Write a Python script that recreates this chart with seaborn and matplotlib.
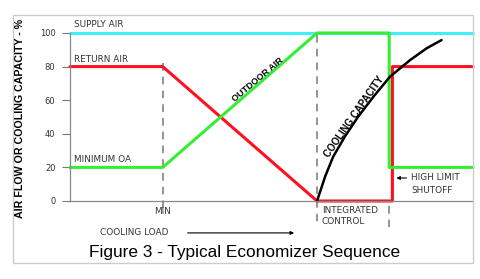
import matplotlib
matplotlib.use("Agg")
import matplotlib.pyplot as plt
from matplotlib.patches import Rectangle
import seaborn as sns

# ---- data ----
supply_x = [0, 100]
supply_y = [100, 100]
return_x = [0, 23, 61.3, 80, 80, 100]
return_y = [80, 80, 0, 0, 80, 80]
outdoor_x = [0, 23, 61.3, 79.2, 79.2, 100]
outdoor_y = [20, 20, 100, 100, 20, 20]
cooling_x = [61.3, 63.3, 65.3, 68.2, 71.5, 75.3, 79.4, 84.4, 88.5, 92.2]
cooling_y = [0, 14.5, 26.4, 38.3, 50.2, 62.1, 74.0, 83.9, 90.9, 95.8]
y_ticks = [0, 20, 40, 60, 80, 100]
min_x = 23
integrated_x = 61.3
shutoff_x = 79.2

sns.set_style("white")
plt.rcParams['font.family'] = ['Liberation Sans', 'DejaVu Sans']

fig = plt.figure(figsize=(4.8, 2.79), dpi=100)
ax = fig.add_axes([70/480, 1-201/279, (473-70)/480, (201-33)/279])

lw = 2.2
sns.lineplot(x=supply_x, y=supply_y, ax=ax, color="#3ff0fa", lw=lw, sort=False, estimator=None, clip_on=False)
sns.lineplot(x=return_x, y=return_y, ax=ax, color="#ff1020", lw=lw, sort=False, estimator=None, clip_on=False)
sns.lineplot(x=outdoor_x, y=outdoor_y, ax=ax, color="#33ee33", lw=lw, sort=False, estimator=None, clip_on=False)
sns.lineplot(x=cooling_x, y=cooling_y, ax=ax, color="black", lw=1.8, sort=False, estimator=None, clip_on=False)

dash = dict(color="#777777", lw=1.1, ls=(0, (5, 4)), clip_on=False, zorder=1)
ax.plot([min_x, min_x], [82, -5], **dash)
ax.plot([integrated_x, integrated_x], [99, -15.5], **dash)
ax.plot([shutoff_x, shutoff_x], [-3, -15.5], **dash)

ax.set_xlim(0, 100)
ax.set_ylim(0, 100)
ax.set_xticks([])
ax.set_yticks(y_ticks)
ax.tick_params(axis='y', length=5.5, width=0.8, color="#777777", pad=5,
               labelsize=6, labelcolor="#333333", left=True, direction='out')
for lab in ax.get_yticklabels():
    lab.set_family('DejaVu Sans')
for s in ['top', 'right']:
    ax.spines[s].set_visible(False)
for s in ['left', 'bottom']:
    ax.spines[s].set_color("#888888")
    ax.spines[s].set_linewidth(0.9)
ax.set_xlabel("")
ax.set_ylabel("")

small = dict(fontsize=6.4, color="#333333", va='center', clip_on=False, family='DejaVu Sans')
ax.text(1, 104.8, "SUPPLY AIR", ha='left', **small)
ax.text(1, 84.5, "RETURN AIR", ha='left', **small)
ax.text(1, 24.5, "MINIMUM OA", ha='left', **small)
ax.text(min_x, -6, "MIN", ha='center', **small)
ax.text(62.5, -5.4, "INTEGRATED", ha='left', **small)
ax.text(62.5, -12.5, "CONTROL", ha='left', **small)
ax.text(84.6, 13.7, "HIGH LIMIT", ha='left', **small)
ax.text(84.6, 6, "SHUTOFF", ha='left', **small)
ax.text(15.9, -19, "COOLING LOAD", ha='center', **small)

ax.annotate("", xy=(80.3, 13.7), xytext=(84.2, 13.7),
            arrowprops=dict(arrowstyle="-|>", color="black", lw=0.8, mutation_scale=5),
            annotation_clip=False)
ax.annotate("", xy=(56.3, -19), xytext=(28.5, -19),
            arrowprops=dict(arrowstyle="-|>", color="black", lw=0.8, mutation_scale=5),
            annotation_clip=False)

ax.text(46.5, 72.5, "OUTDOOR AIR", rotation=40, rotation_mode='anchor', ha='center', va='center',
        fontsize=6.5, fontweight='bold', color='black')
ax.text(70.6, 50.0, "COOLING CAPACITY", rotation=55, rotation_mode='anchor', ha='center', va='center',
        fontsize=7, fontweight='bold', color='black')

fig.text(20/480, 1-118/279, "AIR FLOW OR COOLING CAPACITY - %", rotation=90, ha='center', va='center',
         fontsize=7.7, fontweight='bold', color='black')
fig.text(245/480, 1-253/279, "Figure 3 - Typical Economizer Sequence", ha='center', va='center',
         fontsize=12.4, color='black')

fig.patches.append(Rectangle((13/480, 1-263/279), (473-13)/480, (263-15)/279,
                             transform=fig.transFigure, fill=False, edgecolor="#cccccc", lw=1))

fig.savefig("out.png", dpi=100)
